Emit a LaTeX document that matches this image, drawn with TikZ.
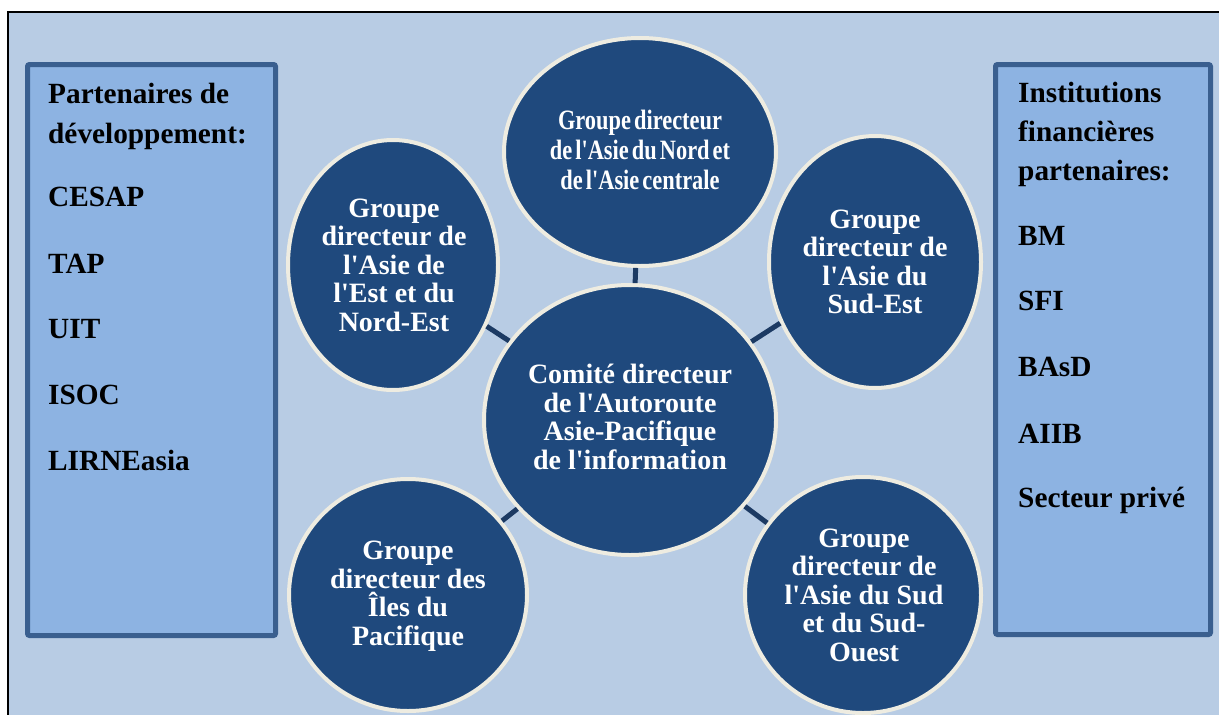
\documentclass[tikz,border=0pt]{standalone}
\usepackage{fontspec}
\setmainfont{Liberation Serif}[Ligatures=TeXOff]
\newfontfamily\condfont{Liberation Serif}[Ligatures=TeXOff,FakeStretch=0.8,WordSpace=0.55]
\usetikzlibrary{shapes.geometric}
\definecolor{bgblue}{HTML}{B8CCE4}
\definecolor{boxfill}{HTML}{8DB3E2}
\definecolor{boxdraw}{HTML}{3A5F8F}
\definecolor{circfill}{HTML}{1F497D}
\definecolor{circdraw}{HTML}{EEECE1}
\definecolor{conncol}{HTML}{1C3A63}
\tikzset{
  sidebox/.style={draw=boxdraw, fill=boxfill, line width=5pt, rounded corners=2pt, inner sep=0pt, outer sep=0pt},
  grp/.style={ellipse, draw=circdraw, fill=circfill, line width=4pt, inner sep=0pt, outer sep=0pt},
  grptext/.style={text=white, align=center, font=\bfseries\fontsize{28}{28.5}\selectfont, inner sep=0pt},
  boxtext/.style={anchor=base west, font=\bfseries\fontsize{29.3}{30}\selectfont, inner sep=0pt, text=black},
  conn/.style={draw=conncol, line width=5pt, shorten >=2pt, shorten <=2pt}
}
\begin{document}
\begin{tikzpicture}[x=1pt,y=-1pt]
\useasboundingbox (0,0) rectangle (1219,715);
\fill[white] (0,0) rectangle (1219,715);
\fill[bgblue] (8,12) rectangle (1219,715);
\draw[black, line width=2pt] (8,720) -- (8,12) -- (1225,12);

% side boxes
\node[sidebox, minimum width=248, minimum height=571] (leftbox) at (151.5,350) {};
\node[sidebox, minimum width=215, minimum height=570] (rightbox) at (1103,349.5) {};

\node[boxtext] (l1) at (48,103) {Partenaires de};
\node[boxtext] (l2) at (48,143) {développement:};
\node[boxtext] (l3) at (48,206) {CESAP};
\node[boxtext] (l4) at (48,273) {TAP};
\node[boxtext] (l5) at (48,338) {UIT};
\node[boxtext] (l6) at (48,404) {ISOC};
\node[boxtext] (l7) at (48,470) {LIRNEasia};

\node[boxtext] (r1) at (1018,102) {Institutions};
\node[boxtext] (r2) at (1018,141) {financières};
\node[boxtext] (r3) at (1018,180) {partenaires:};
\node[boxtext] (r4) at (1018,245) {BM};
\node[boxtext] (r5) at (1018,310) {SFI};
\node[boxtext] (r6) at (1018,376) {BAsD};
\node[boxtext] (r7) at (1018,443) {AIIB};
\node[boxtext] (r8) at (1018,507) {Secteur privé};

% circles
\node[grp, minimum width=292, minimum height=270] (cen) at (630,420) {};
\node[grp, minimum width=272, minimum height=228] (top) at (640,152) {};
\node[grp, minimum width=210, minimum height=250] (ul) at (393,265) {};
\node[grp, minimum width=212, minimum height=252] (ur) at (875,262) {};
\node[grp, minimum width=238, minimum height=232] (ll) at (408,595) {};
\node[grp, minimum width=236, minimum height=236] (lr) at (863,595) {};

% connectors
\draw[conn] (cen) -- (top);
\draw[conn] (cen) -- (ul);
\draw[conn] (cen) -- (ur);
\draw[conn] (cen) -- (ll);
\draw[conn] (cen) -- (lr);

% texts
\node[grptext] (tcen) at (630,417) {Comité directeur\\de l'Autoroute\\Asie-Pacifique\\de l'information};
\node[grptext, font=\condfont\bfseries\fontsize{28}{30}\selectfont] (ttop) at (640,150) {Groupe directeur\\de l'Asie du Nord et\\de l'Asie centrale};
\node[grptext] (tul) at (394,265) {Groupe\\directeur de\\l'Asie de\\l'Est et du\\Nord-Est};
\node[grptext] (tur) at (875,262) {Groupe\\directeur de\\l'Asie du\\Sud-Est};
\node[grptext] (tll) at (408,596) {Groupe\\directeur des\\Îles du\\Pacifique};
\node[grptext] (tlr) at (864,595) {Groupe\\directeur de\\l'Asie du Sud\\et du Sud-\\Ouest};
\end{tikzpicture}
\end{document}
